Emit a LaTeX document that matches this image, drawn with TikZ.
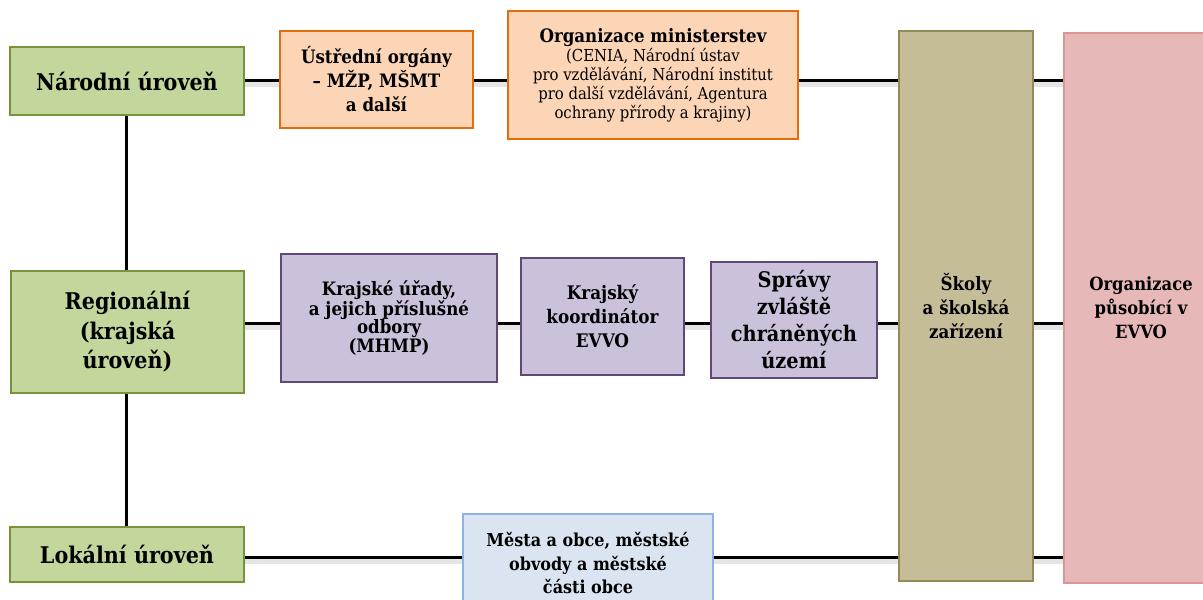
\documentclass[tikz,border=0pt]{standalone}
\usepackage{fontspec}
\setmainfont{DejaVu Serif Condensed}
\definecolor{grnF}{HTML}{C3D69B}
\definecolor{grnD}{HTML}{77933C}
\definecolor{orF}{HTML}{FBD5B5}
\definecolor{orD}{HTML}{E46C0A}
\definecolor{puF}{HTML}{CCC1DA}
\definecolor{puD}{HTML}{5F497A}
\definecolor{olF}{HTML}{C4BD97}
\definecolor{olD}{HTML}{948A54}
\definecolor{piF}{HTML}{E6B9B8}
\definecolor{piD}{HTML}{D99694}
\definecolor{blF}{HTML}{DBE5F1}
\definecolor{blD}{HTML}{8DB3E2}
\tikzset{
  box/.style={draw, line width=2pt, align=center, inner sep=0pt, text=black},
  lvl/.style={box, fill=grnF, draw=grnD, font=\fontsize{23}{29.5}\selectfont\bfseries},
  orbox/.style={box, fill=orF, draw=orD},
  pubox/.style={box, fill=puF, draw=puD},
  conn/.style={line width=3pt, black, preaction={draw=black!10, line width=5pt, transform canvas={yshift=-4pt}}},
  vconn/.style={line width=3pt, black}
}
\begin{document}
\begin{tikzpicture}[x=1pt, y=-1pt]
\useasboundingbox (0,0) rectangle (1203,600);
\clip (0,0) rectangle (1203,600);
\coordinate (L1) at (0,80);
\coordinate (L2) at (0,323);
\coordinate (L3) at (0,557);

\node[lvl, minimum width=234, minimum height=68] (nar) at (127,81) {Národní úroveň};
\node[lvl, minimum width=233, minimum height=122] (reg) at (127.5,332) {Regionální\\(krajská\\úroveň)};
\node[lvl, minimum width=234, minimum height=55] (lok) at (127,554.5) {Lokální úroveň};

\node[orbox, minimum width=193, minimum height=97, font=\fontsize{18.5}{24}\selectfont\bfseries] (ustr) at (376.5,79.5) {Ústřední orgány\\– MŽP, MŠMT\\a další};
\node[orbox, minimum width=290, minimum height=128, font=\fontsize{16.5}{19}\selectfont] (orgmin) at (653,75) {{\fontsize{18.5}{19}\selectfont\bfseries Organizace ministerstev}\\(CENIA, Národní ústav\\pro vzdělávání, Národní institut\\pro další vzdělávání, Agentura\\ochrany přírody a krajiny)};

\node[pubox, minimum width=216, minimum height=128, font=\fontsize{18.5}{18.5}\selectfont\bfseries] (kraj) at (389,318) {Krajské úřady,\\a jejich příslušné\\odbory\\(MHMP)};
\node[pubox, minimum width=163, minimum height=117, font=\fontsize{18.7}{24}\selectfont\bfseries] (koord) at (602.5,316.5) {Krajský\\koordinátor\\EVVO};
\node[pubox, minimum width=166, minimum height=116, font=\fontsize{21.5}{27}\selectfont\bfseries] (spravy) at (794,320) {Správy\\zvláště\\chráněných\\území};

\node[box, fill=olF, draw=olD, minimum width=134, minimum height=550, font=\fontsize{18.5}{24}\selectfont\bfseries] (skoly) at (966,306) {Školy\\a školská\\zařízení};
\node[box, fill=piF, draw=piD, minimum width=154, minimum height=550, font=\fontsize{18.2}{24}\selectfont\bfseries] (orgev) at (1141,308) {Organizace\\působící v\\EVVO};

\node[box, fill=blF, draw=blD, minimum width=250, minimum height=98, font=\fontsize{17.8}{23.5}\selectfont\bfseries] (mesta) at (588,563) {Města a obce, městské\\obvody a městské\\části obce};

% connectors
\draw[conn] (nar.east |- L1) -- (ustr.west |- L1);
\draw[conn] (ustr.east |- L1) -- (orgmin.west |- L1);
\draw[conn] (orgmin.east |- L1) -- (skoly.west |- L1);
\draw[conn] (skoly.east |- L1) -- (orgev.west |- L1);

\draw[conn] (reg.east |- L2) -- (kraj.west |- L2);
\draw[conn] (kraj.east |- L2) -- (koord.west |- L2);
\draw[conn] (koord.east |- L2) -- (spravy.west |- L2);
\draw[conn] (spravy.east |- L2) -- (skoly.west |- L2);
\draw[conn] (skoly.east |- L2) -- (orgev.west |- L2);

\draw[conn] (lok.east |- L3) -- (mesta.west |- L3);
\draw[conn] (mesta.east |- L3) -- (skoly.west |- L3);
\draw[conn] (skoly.east |- L3) -- (orgev.west |- L3);

\draw[vconn] (nar.south) ++(-1,0) coordinate (n1) -- (n1 |- reg.north);
\draw[vconn] (reg.south) ++(-1.5,0) coordinate (r1) -- (r1 |- lok.north);
\end{tikzpicture}
\end{document}
